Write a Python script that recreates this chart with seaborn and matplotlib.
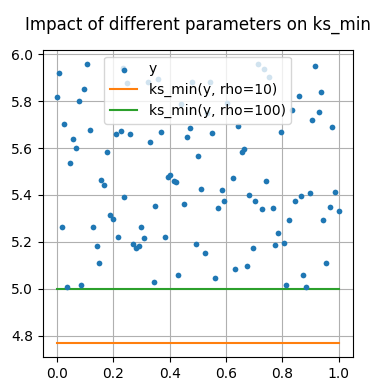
import matplotlib
matplotlib.use("Agg")
import matplotlib.pyplot as plt
import seaborn as sns
import pandas as pd

x_vals = [0.000, 0.009, 0.020, 0.027, 0.038, 0.048, 0.059, 0.070, 0.080, 0.087,
          0.098, 0.108, 0.119, 0.130, 0.142, 0.150, 0.156, 0.169, 0.179, 0.190,
          0.201, 0.211, 0.218, 0.229, 0.236, 0.240, 0.250, 0.261, 0.272, 0.282,
          0.291, 0.300, 0.311, 0.322, 0.331, 0.343, 0.350, 0.360, 0.370, 0.382,
          0.394, 0.403, 0.415, 0.423, 0.431, 0.441, 0.452, 0.463, 0.474, 0.481,
          0.492, 0.502, 0.513, 0.525, 0.534, 0.544, 0.552, 0.562, 0.573, 0.584,
          0.594, 0.605, 0.623, 0.633, 0.644, 0.656, 0.662, 0.676, 0.683, 0.694,
          0.704, 0.714, 0.726, 0.736, 0.742, 0.754, 0.765, 0.775, 0.786, 0.796,
          0.807, 0.814, 0.825, 0.833, 0.846, 0.857, 0.867, 0.874, 0.885, 0.896,
          0.906, 0.916, 0.928, 0.938, 0.945, 0.956, 0.967, 0.977, 0.988, 0.999]
y_vals = [5.817, 5.919, 5.265, 5.703, 5.005, 5.536, 5.638, 5.598, 5.800, 5.017,
          5.851, 5.960, 5.677, 5.265, 5.183, 5.111, 5.465, 5.443, 5.583, 5.315,
          5.298, 5.660, 5.221, 5.672, 5.940, 5.393, 5.877, 5.660, 5.189, 5.174,
          5.184, 5.264, 5.217, 5.883, 5.626, 5.030, 5.354, 5.894, 5.669, 5.221,
          5.478, 5.485, 5.458, 5.454, 5.060, 5.789, 5.359, 5.647, 5.685, 5.881,
          5.191, 5.566, 5.427, 5.150, 5.749, 5.881, 5.664, 5.047, 5.345, 5.421,
          5.373, 5.791, 5.472, 5.085, 5.696, 5.583, 5.597, 5.098, 5.400, 5.174,
          5.373, 5.959, 5.340, 5.936, 5.458, 5.902, 5.345, 5.187, 5.238, 5.668,
          5.196, 5.017, 5.294, 5.763, 5.376, 5.823, 5.397, 5.060, 5.005, 5.409,
          5.720, 5.950, 5.753, 5.838, 5.294, 5.111, 5.349, 5.689, 5.413, 5.332]
ks_rho10 = 4.768
ks_rho100 = 4.997
line_x = [x_vals[0], x_vals[-1]]

fig, ax = plt.subplots(figsize=(3.74, 3.91), dpi=100)
fig.subplots_adjust(left=0.114, right=0.943, top=0.873, bottom=0.087)

sns.scatterplot(x=x_vals, y=y_vals, ax=ax, s=17, linewidth=0, color="#1f77b4", label="y", zorder=3)
sns.lineplot(x=line_x, y=[ks_rho10, ks_rho10], ax=ax, color="#ff7f0e", label="ks_min(y, rho=10)")
sns.lineplot(x=line_x, y=[ks_rho100, ks_rho100], ax=ax, color="#2ca02c", label="ks_min(y, rho=100)")

ax.set_title("Impact of different parameters on ks_min", pad=14)
ax.set_axisbelow(True)
ax.grid(True)
ax.legend(loc="upper center")
fig.savefig("out.png", dpi=100)
